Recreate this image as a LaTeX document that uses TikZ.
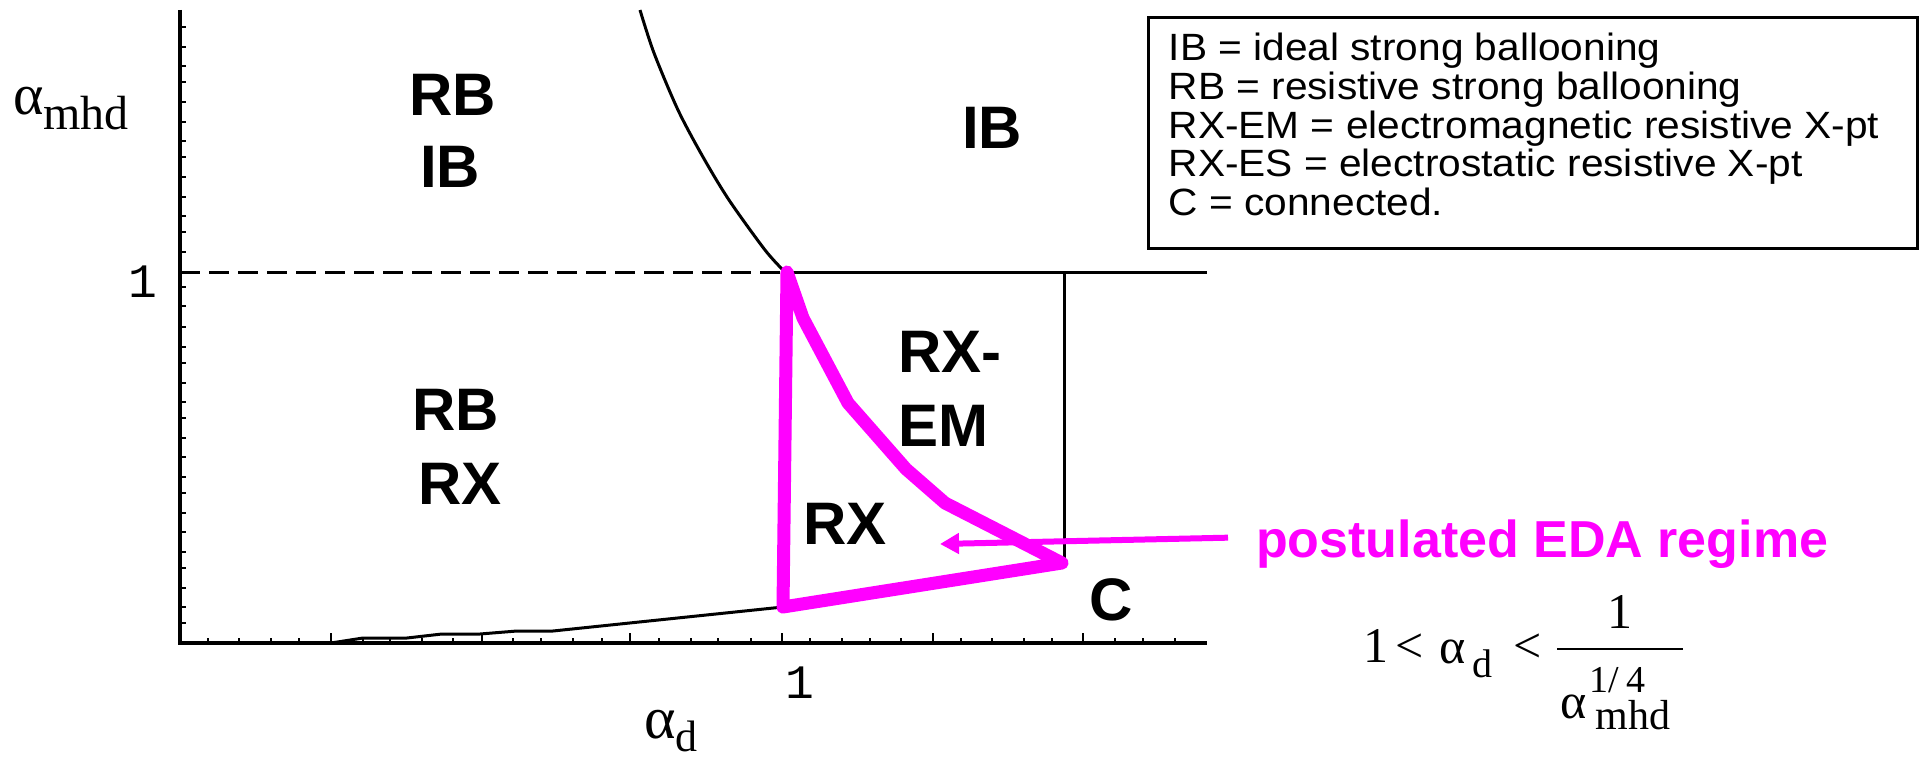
\documentclass[tikz,border=0pt]{standalone}
\usepackage{fontspec}
\setmainfont{Liberation Sans}
\newfontfamily\legfont[FakeStretch=1.07]{Liberation Sans}
\newfontfamily\tms{Liberation Serif}
\newfontfamily\mono{Liberation Mono}
\usetikzlibrary{arrows.meta}
\definecolor{pinkm}{RGB}{255,0,255}
\begin{document}
\begin{tikzpicture}[x=1pt,y=-1pt,
  axisline/.style={line width=4pt},
  tickmark/.style={line width=2.5pt},
  bound/.style={line width=3pt},
  region/.style={font=\bfseries\fontsize{60}{72}\selectfont, anchor=base, inner sep=0pt},
  edatri/.style={draw=pinkm, line width=13pt, line join=round, line cap=round},
  edaarrow/.style={draw=pinkm, line width=6pt, -{Triangle[length=19pt,width=20pt]}},
  fml/.style={font=\tms\fontsize{50}{50}\selectfont, anchor=base, inner sep=0pt},
  fsub/.style={font=\tms\fontsize{40}{40}\selectfont, anchor=base, inner sep=0pt},
  fsup/.style={font=\tms\fontsize{38}{38}\selectfont, anchor=base west, inner sep=0pt},
  ticklabel/.style={font=\mono\fontsize{48}{48}\selectfont, anchor=base, inner sep=0pt}]
\useasboundingbox (0,0) rectangle (1923,757);

% axes
\draw[axisline] (180,10) -- (180,643) -- (1207,643);
\foreach \yy in {27,47,66,82,102,122,141,157,177,197,216,232,252,273,287,306,327,347,363,383,402,418,438,457,477,493,513,532,552,568,588,607,623}
  \draw[tickmark] (180,\yy) -- ++(6,0);
\foreach \xx in {208,239,271,299,363,390,422,453,513,541,573,602,659,691,718,751,810,842,870,901,961,992,1024,1052,1115,1143,1175}
  \draw[tickmark] (\xx,643) -- ++(0,-5);
\foreach \xx in {331,482,630,782,933,1083}
  \draw[tickmark] (\xx,643) -- ++(0,-10);

% tick labels and axis labels
\node[ticklabel] (yone) at (142.5,297) {1};
\node[ticklabel] (xone) at (800,698) {1};
\node[anchor=base west, inner sep=0pt, font=\tms] (ylab) at (13,115)
  {\fontsize{58}{58}\selectfont α\raisebox{-15pt}{\fontsize{48}{48}\selectfont mhd}};
\node[anchor=base west, inner sep=0pt, font=\tms] (xlab) at (644,738)
  {\fontsize{60}{60}\selectfont α\raisebox{-13pt}{\fontsize{44}{44}\selectfont d}};

% boundaries
\draw[bound, dash pattern=on 20pt off 9pt] (180,272) -- (787,272);
\draw[bound] (787,272) -- (1207,272);
\draw[bound] (1064,272) -- (1064,558);
\draw[bound] plot[smooth] coordinates {(640,10) (654,53) (678,110) (703,157) (729,200) (765,250) (784,271)};
\draw[bound] (331,643) -- (363,638) -- (407,638) -- (442,634) -- (480,634) -- (517,631) -- (553,631) -- (783,607);

% EDA region
\draw[edatri] (787,272) -- (803,318) -- (848,403) -- (906,469) -- (945,503) -- (1062,563) -- (783,607) -- cycle;

% region labels
\node[region] (rbtop) at (453,116) {RB};
\node[region] (ibtop) at (450,188) {IB};
\node[region] (rblow) at (456,430) {RB};
\node[region] (rxlow) at (460,504) {RX};
\node[region] (ibright) at (992,149) {IB};
\node[region, anchor=base west] (rxem1) at (898,372) {RX-};
\node[region, anchor=base west] (rxem2) at (898,446) {EM};
\node[region] (rxtri) at (845,544) {RX};
\node[region] (cnode) at (1111,620) {C};

% legend
\node[draw, line width=2.7pt, minimum width=769pt, minimum height=231pt, anchor=north west, inner sep=0pt] (legend) at (1147,16) {};
\node[anchor=north west, inner sep=0pt, align=left, font=\legfont\fontsize{38}{38.8}\selectfont] (legendtext) at (1168.5,32.8)
  {IB = ideal strong ballooning\\
   RB = resistive strong ballooning\\
   RX-EM = electromagnetic resistive X-pt\\
   RX-ES = electrostatic resistive X-pt\\
   C = connected.};

% postulated EDA label and arrow
\node[anchor=base west, inner sep=0pt, text=pinkm, font=\bfseries\fontsize{52}{60}\selectfont] (eda) at (1256,557) {postulated EDA regime};
\coordinate (edatip) at (940,544);
\draw[edaarrow] ([xshift=-28pt,yshift=6pt]eda.west) -- (edatip);

% formula
\node[fml] (f1) at (1375.5,662) {1};
\node[fml] (flt1) at (1410,662) {<};
\node[fml] (falpha) at (1452.5,663) {α};
\node[fsub] (fd) at (1482.5,677) {d};
\node[fml] (flt2) at (1527.5,662) {<};
\coordinate (barL) at (1557,649);
\coordinate (barR) at (1683,649);
\draw[line width=2.5pt] (barL) -- (barR);
\node[fml] (fnum) at (1620,628) {1};
\node[fml] (fdalpha) at (1574,718) {α};
\node[fsup] (fexp) at (1589,692) {1/\hspace{8pt}4};
\node[fsub, font=\tms\fontsize{42}{42}\selectfont] (fmhd) at (1633,729) {mhd};
\end{tikzpicture}
\end{document}
